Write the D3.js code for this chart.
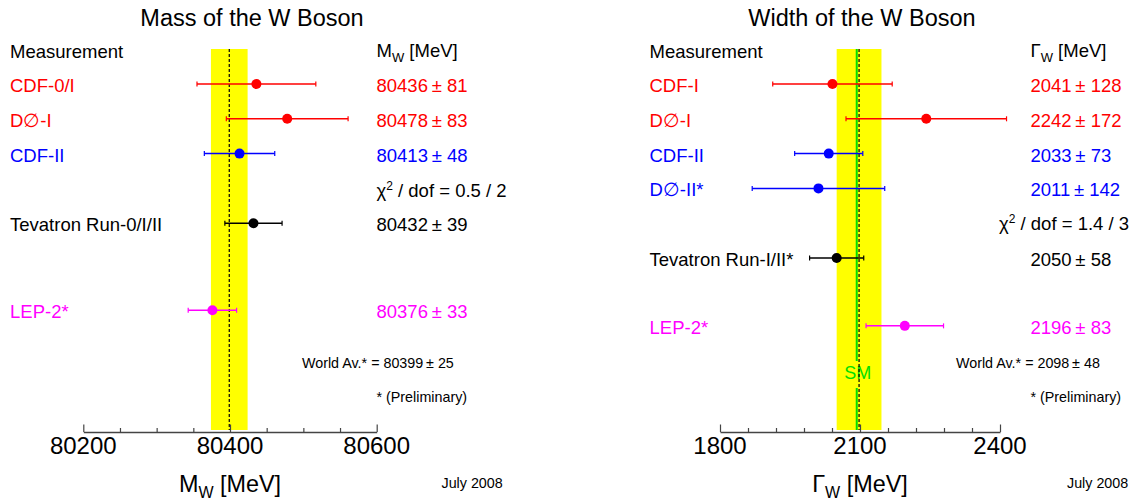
<!DOCTYPE html>
<html>
<head>
<meta charset="utf-8">
<script src="https://cdn.jsdelivr.net/npm/d3@7"></script>
<style>
  body { margin: 0; background: #fff; }
  svg text { font-family: "Liberation Sans", Arial, Helvetica, sans-serif; }
</style>
</head>
<body>
<svg width="1140" height="501"></svg>
<script>
// W mass measurements
let massLabels = ["CDF-0/I", "D\u2205-I", "CDF-II", "Tevatron Run-0/I/II", "LEP-2*"];
let massValues = [80436, 80478, 80413, 80432, 80376];
let massErrors = [81, 83, 48, 39, 33];
let massGroups = ["run1", "run1", "run2", "combined", "lep"];
let massAvg = [80399, 25];
let massChi2 = "0.5 / 2";
let massTicks = [80200, 80400, 80600];

// W width measurements
let widthLabels = ["CDF-I", "D\u2205-I", "CDF-II", "D\u2205-II*", "Tevatron Run-I/II*", "LEP-2*"];
let widthValues = [2041, 2242, 2033, 2011, 2050, 2196];
let widthErrors = [128, 172, 73, 142, 58, 83];
let widthGroups = ["run1", "run1", "run2", "run2", "combined", "lep"];
let widthAvg = [2098, 48];
let widthSM = 2093;
let widthChi2 = "1.4 / 3";
let widthTicks = [1800, 2100, 2400];

let color = d3.scaleOrdinal()
    .domain(["run1", "run2", "combined", "lep"])
    .range(["#ff0000", "#0000ff", "#000000", "#ff00ff"]);

let svg = d3.select("svg");

// row slot -> pixel
let row = d3.scaleLinear().domain([0, 1]).range([84, 118.8]);

function pm(v, e) { return v + "\u2009\u00b1\u00a0" + e; }

function drawPanel(p) {
    let g = svg.append("g");
    let x = d3.scaleLinear().domain(p.domain).range(p.range);
    let axisY = 432;
    let top = 49;

    // title
    g.append("text")
        .attr("x", p.titleX).attr("y", 26)
        .attr("text-anchor", "middle")
        .style("font-size", "23.5px")
        .text(p.title);

    g.append("text")
        .attr("x", p.labelX).attr("y", 58)
        .style("font-size", "18.5px")
        .text("Measurement");

    let head = g.append("text")
        .attr("x", p.valueX).attr("y", 57)
        .style("font-size", "18.5px");
    head.append("tspan").text(p.sym);
    head.append("tspan").attr("dy", 5).style("font-size", "13px").text("W");
    head.append("tspan").attr("dy", -5).text(" [MeV]");

    // world average band
    g.append("rect")
        .attr("x", x(p.avg[0] - p.avg[1]))
        .attr("width", x(p.avg[0] + p.avg[1]) - x(p.avg[0] - p.avg[1]))
        .attr("y", top)
        .attr("height", axisY - 2 - top)
        .attr("fill", "#ffff00");

    if (p.sm) {
        g.append("line")
            .attr("x1", x(p.sm)).attr("x2", x(p.sm))
            .attr("y1", top).attr("y2", 361)
            .attr("stroke", "#00e000").attr("stroke-width", 2);
        g.append("line")
            .attr("x1", x(p.sm)).attr("x2", x(p.sm))
            .attr("y1", 388).attr("y2", axisY - 2)
            .attr("stroke", "#00e000").attr("stroke-width", 2);
        g.append("text")
            .attr("x", x(p.sm) + 1).attr("y", 379)
            .attr("text-anchor", "middle")
            .attr("fill", "#00e000")
            .style("font-size", "18px")
            .text("SM");
    }

    g.append("line")
        .attr("x1", x(p.avg[0])).attr("x2", x(p.avg[0]))
        .attr("y1", top).attr("y2", axisY - 2)
        .attr("stroke", "#000").attr("stroke-width", 1.2)
        .attr("stroke-dasharray", "3,2");

    // measurement rows
    let data = p.labels.map(function(l, i) {
        return {label: l, v: p.values[i], e: p.errors[i], grp: p.groups[i], slot: p.slots[i]};
    });

    let rows = g.selectAll(".row").data(data).enter().append("g").attr("class", "row");

    rows.append("line")
        .attr("x1", function(d) { return x(d.v - d.e); })
        .attr("x2", function(d) { return x(d.v + d.e); })
        .attr("y1", function(d) { return row(d.slot); })
        .attr("y2", function(d) { return row(d.slot); })
        .attr("stroke", function(d) { return color(d.grp); })
        .attr("stroke-width", 1.5);

    [-1, 1].forEach(function(s) {
        rows.append("line")
            .attr("x1", function(d) { return x(d.v + s * d.e); })
            .attr("x2", function(d) { return x(d.v + s * d.e); })
            .attr("y1", function(d) { return row(d.slot) - 2.5; })
            .attr("y2", function(d) { return row(d.slot) + 2.5; })
            .attr("stroke", function(d) { return color(d.grp); })
            .attr("stroke-width", 1.2);
    });

    rows.append("circle")
        .attr("cx", function(d) { return x(d.v); })
        .attr("cy", function(d) { return row(d.slot); })
        .attr("r", 5)
        .attr("fill", function(d) { return color(d.grp); });

    rows.append("text")
        .attr("x", p.labelX)
        .attr("y", function(d) { return row(d.slot) + 8; })
        .attr("fill", function(d) { return color(d.grp); })
        .style("font-size", "18.5px")
        .text(function(d) { return d.label; });

    rows.append("text")
        .attr("x", p.valueX)
        .attr("y", function(d) { return row(d.slot) + 8; })
        .attr("fill", function(d) { return color(d.grp); })
        .style("font-size", "18.5px")
        .text(function(d) { return pm(d.v, d.e); });

    // chi2
    let chi = g.append("text")
        .attr("x", p.chiX).attr("y", p.chiY)
        .style("font-size", "18.5px");
    chi.append("tspan").text("\u03c7");
    chi.append("tspan").attr("dy", -7).style("font-size", "12px").text("2");
    chi.append("tspan").attr("dy", 7).text(" / dof = " + p.chi2);

    g.append("text")
        .attr("x", p.avgX).attr("y", 368)
        .style("font-size", "14.3px")
        .text("World Av.* = " + pm(p.avg[0], p.avg[1]));

    g.append("text")
        .attr("x", p.valueX).attr("y", 401.5)
        .style("font-size", "14.3px")
        .text("* (Preliminary)");

    // axis
    let minor = d3.range(p.domain[0], p.domain[1] + 0.001, p.minorStep);
    let ax = g.append("g").attr("transform", "translate(0," + axisY + ")");
    ax.call(d3.axisBottom(x).tickValues(minor).tickSize(0).tickFormat(""));
    ax.select(".domain").attr("stroke", "#444").attr("stroke-width", 1.5);
    ax.selectAll(".tick line")
        .attr("y2", function(d) { return p.ticks.indexOf(d) >= 0 ? -7.5 : -4; })
        .attr("stroke", "#444").attr("stroke-width", 1.2);

    g.selectAll(".ticklab").data(p.ticks).enter().append("text")
        .attr("x", function(d) { return x(d); })
        .attr("y", 454)
        .attr("text-anchor", "middle")
        .style("font-size", "24px")
        .text(function(d) { return d; });

    let t = g.append("text")
        .attr("x", x(p.ticks[1])).attr("y", 491.5)
        .attr("text-anchor", "middle")
        .style("font-size", "23.4px");
    t.append("tspan").text(p.sym);
    t.append("tspan").attr("dy", 6).style("font-size", "16px").text("W");
    t.append("tspan").attr("dy", -6).text(" [MeV]");

    g.append("text")
        .attr("x", p.dateX).attr("y", 488)
        .style("font-size", "14.3px")
        .text("July 2008");
}

drawPanel({
    title: "Mass of the W Boson", titleX: 252,
    sym: "M", labels: massLabels, values: massValues, errors: massErrors, groups: massGroups,
    slots: [0, 1, 2, 4, 6.5], chiY: 197, chi2: massChi2, chiX: 376.5,
    avg: massAvg, sm: null,
    domain: [80200, 80600], range: [83.3, 376.7], minorStep: 50, ticks: massTicks,
    labelX: 10, valueX: 376.5, avgX: 302, dateX: 441.5
});

drawPanel({
    title: "Width of the W Boson", titleX: 862,
    sym: "\u0393", labels: widthLabels, values: widthValues, errors: widthErrors, groups: widthGroups,
    slots: [0, 1, 2, 3, 5, 6.95], chiY: 230, chi2: widthChi2, chiX: 999,
    avg: widthAvg, sm: widthSM,
    domain: [1800, 2400], range: [720, 1000], minorStep: 60, ticks: widthTicks,
    labelX: 649.5, valueX: 1030.5, avgX: 956, dateX: 1067
});
</script>
</body>
</html>
